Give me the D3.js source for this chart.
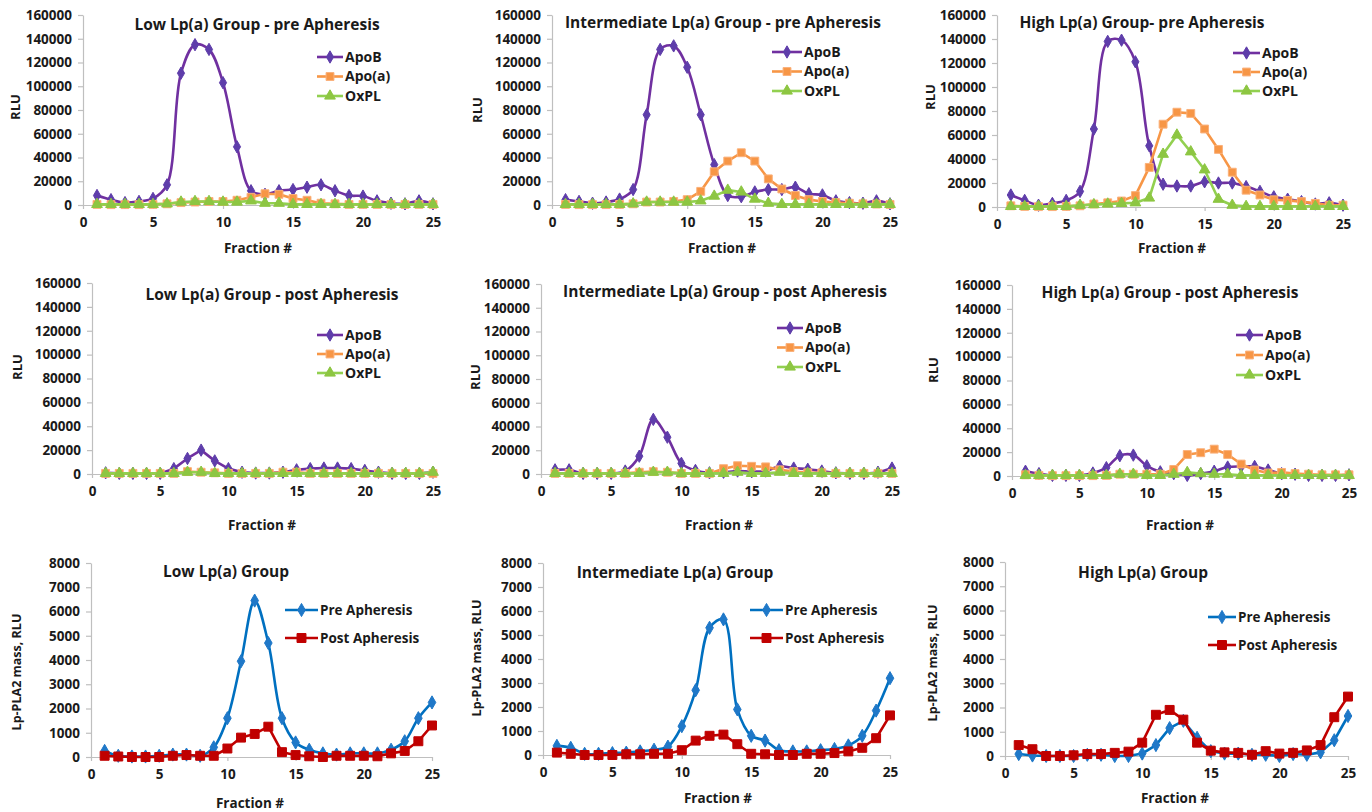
<!DOCTYPE html>
<html><head><meta charset="utf-8">
<script src="https://cdn.jsdelivr.net/npm/d3@7"></script>
<style>
body{margin:0;background:#fff;}
svg{display:block;font-family:"Open Sans",Lato,sans-serif;font-weight:bold;}
</style></head><body>
<svg id="chart" width="1372" height="812"></svg>
<script>
// ---------- DATA ----------
const fractions = [1,2,3,4,5,6,7,8,9,10,11,12,13,14,15,16,17,18,19,20,21,22,23,24,25];
const xTickValues = [0,5,10,15,20,25];
const rluTicks = [0,20000,40000,60000,80000,100000,120000,140000,160000];
const plaTicks = [0,1000,2000,3000,4000,5000,6000,7000,8000];
const apoSeriesNames = ["ApoB","Apo(a)","OxPL"];
const plaSeriesNames = ["Pre Apheresis","Post Apheresis"];
const panelTitles = [
  "Low Lp(a) Group - pre Apheresis","Intermediate Lp(a) Group - pre Apheresis","High Lp(a) Group- pre Apheresis",
  "Low Lp(a) Group - post Apheresis","Intermediate Lp(a) Group - post Apheresis","High Lp(a) Group - post Apheresis",
  "Low Lp(a) Group","Intermediate Lp(a) Group","High Lp(a) Group"];
const xAxisTitle = "Fraction #";
const rluAxisTitle = "RLU";
const plaAxisTitle = "Lp-PLA2 mass, RLU";

// Low pre
const lowPreApoB = [8000,4500,2000,3000,5500,17000,111000,135000,131000,103000,49000,12000,9000,12000,13000,15000,17000,12000,8000,7500,3500,1500,1000,3500,1000];
const lowPreApoA = [500,300,300,300,500,1000,2000,2500,3000,3000,4000,6500,9500,9000,5500,4000,1500,1000,500,500,500,500,500,500,500];
const lowPreOxPL = [500,500,500,500,500,1000,2500,3000,3000,2500,2500,3500,1500,1500,500,500,500,500,500,500,500,500,500,500,500];
// Intermediate pre
const intPreApoB = [4500,3000,1500,2500,5000,13000,76000,131000,134000,116000,76000,34000,8000,7000,11000,13000,13000,15000,9500,8500,3500,2000,1500,3500,1000];
const intPreApoA = [500,300,300,300,500,1000,2500,2500,3000,4500,11500,28000,37000,44000,37000,22000,13500,8000,4500,3000,2000,1500,1000,800,500];
const intPreOxPL = [500,500,500,500,500,1000,2500,2500,2500,2500,3500,7500,12500,11000,5000,1500,500,500,500,500,500,500,500,500,500];
// High pre
const highPreApoB = [10000,5500,1500,3000,5500,13000,65000,138000,139000,121000,51000,19000,17500,17500,21000,20000,20000,17000,13000,8500,6500,4500,2500,3500,1500];
const highPreApoA = [1000,500,300,300,500,1000,2500,3500,5000,9500,33000,69000,79000,78000,65000,48000,29000,14000,10000,6000,5500,4500,3000,1500,1500];
const highPreOxPL = [500,500,500,500,500,1500,2000,2500,3000,3500,7500,44000,60000,46000,31000,6500,1500,500,500,500,500,500,500,500,500];
// Low post
const lowPostApoB = [1000,500,500,500,500,4500,13000,20000,11000,4500,1500,800,800,1500,3500,4500,5000,5000,4500,3000,1500,500,500,500,1500];
const lowPostApoA = [500,500,500,500,500,500,2000,1500,1000,500,500,500,500,1500,1500,500,500,500,500,500,500,500,500,500,500];
const lowPostOxPL = [500,500,500,500,500,500,1500,1500,500,500,500,500,500,500,500,500,500,500,500,500,500,500,500,500,1500];
// Intermediate post
const intPostApoB = [3500,3500,500,500,500,2500,15000,46000,31000,9000,3000,1000,1500,2500,2000,2500,6500,5000,4000,2500,1000,500,500,1500,5000];
const intPostApoA = [500,500,500,500,500,500,1500,2000,1500,500,500,500,4500,7000,6500,6000,3500,2000,1000,1000,500,500,500,500,500];
const intPostOxPL = [500,500,500,500,500,500,500,1500,1500,500,500,500,500,1500,500,500,1500,500,500,500,500,500,500,500,500];
// High post
const highPostApoB = [4000,2000,500,500,500,2500,7000,17000,17500,8500,3500,2000,500,2000,4000,7500,8000,8000,5000,2000,1500,500,500,500,1000];
const highPostApoA = [1000,500,300,300,300,300,500,1500,1500,1500,1500,5500,18000,19500,22500,18000,10000,5000,2500,3000,2000,1500,1000,1000,1000];
const highPostOxPL = [500,500,500,500,500,500,500,1500,1500,500,500,1500,3000,2000,1500,1500,500,500,500,500,500,500,500,500,500];
// Lp-PLA2 mass
const lowPre  = [250,50,20,20,50,100,100,50,400,1600,3950,6450,4700,1600,600,300,150,100,150,150,150,300,650,1600,2250];
const lowPost = [50,20,0,0,0,50,80,50,50,350,800,950,1250,200,80,30,0,50,50,50,30,150,250,650,1300];
const intPre  = [380,300,50,50,80,100,150,220,350,1200,2700,5300,5650,1900,800,600,200,150,150,200,250,400,800,1850,3200];
const intPost = [100,50,0,0,0,30,30,50,50,200,600,800,850,450,50,30,0,0,50,50,80,150,300,700,1650];
const highPre  = [80,20,0,0,0,50,50,0,0,100,450,1150,1450,750,200,100,100,50,50,0,80,50,150,650,1650];
const highPost = [450,280,0,0,30,80,80,130,180,550,1700,1900,1500,550,220,150,130,50,200,100,130,230,450,1600,2450];

// ---------- STYLES ----------
const styles = {
  "ApoB":  {line:"#7030A0", fill:"#5E3DAA", stroke:"#5E3DAA", sym:d3.symbolDiamond, size:44},
  "Apo(a)":{line:"#F79646", fill:"#F79646", stroke:"#FAB07A", sym:d3.symbolSquare, size:62},
  "OxPL":  {line:"#92D050", fill:"#8DC642", stroke:"#8DC642", sym:d3.symbolTriangle, size:50},
  "Pre Apheresis": {line:"#0070C0", fill:"#1F78C8", stroke:"#1F78C8", sym:d3.symbolDiamond, size:50},
  "Post Apheresis":{line:"#C00000", fill:"#C00000", stroke:"#C00000", sym:d3.symbolSquare, size:80}
};

// ---------- PANELS ----------
const panels = [
  {t:0, data:[lowPreApoB,lowPreApoA,lowPreOxPL], smooth:[true,false,false], xr:[83,433], yr:[205,15], ttl:[257,25], yl:[15,107], xl:[258,248], lg:[317,57,19.5,26]},
  {t:1, data:[intPreApoB,intPreApoA,intPreOxPL], smooth:[true,false,false], xr:[552,890], yr:[205,15], ttl:[723,23], yl:[477,110], xl:[722,248], lg:[772,52,19.5,30]},
  {t:2, data:[highPreApoB,highPreApoA,highPreOxPL], smooth:[true,false,false], xr:[997,1343], yr:[207,15], ttl:[1142,23], yl:[930,97], xl:[1172,248], lg:[1233,53,19,27]},
  {t:3, data:[lowPostApoB,lowPostApoA,lowPostOxPL], smooth:[false,false,false], xr:[92,433], yr:[474,283], ttl:[272,295], yl:[17,367], xl:[262,525], lg:[317,335,19,26]},
  {t:4, data:[intPostApoB,intPostApoA,intPostOxPL], smooth:[true,false,false], xr:[541,892], yr:[474,284], ttl:[725,292], yl:[475,377], xl:[719,525], lg:[777,328,19.5,26]},
  {t:5, data:[highPostApoB,highPostApoA,highPostOxPL], smooth:[true,false,false], xr:[1012,1349], yr:[476,285], ttl:[1170,293], yl:[933,370], xl:[1180,525], lg:[1236,335,20,27]},
  {t:6, data:[lowPre,lowPost], smooth:[true,false], xr:[91,432], yr:[757,563], ttl:[226,572], yl:[17,672], xl:[250,803], lg:[285,610,28,33], pla:true},
  {t:7, data:[intPre,intPost], smooth:[true,false], xr:[543,890], yr:[755,563], ttl:[675,573], yl:[477,658], xl:[718,798], lg:[750,610,28,33], pla:true},
  {t:8, data:[highPre,highPost], smooth:[false,false], xr:[1005,1348], yr:[756,562], ttl:[1143,573], yl:[933,663], xl:[1175,798], lg:[1208,617,28,28], pla:true}
];

const svg = d3.select("#chart");
const textColor = "#1a1a1a";
const axisColor = "#bfbfbf";
const font = "'Open Sans', Lato, sans-serif";

panels.forEach(p => {
  const g = svg.append("g");
  const ticks = p.pla ? plaTicks : rluTicks;
  const names = p.pla ? plaSeriesNames : apoSeriesNames;
  const x = d3.scaleLinear().domain([0,25]).range(p.xr);
  const y = d3.scaleLinear().domain([0, ticks[ticks.length-1]]).range(p.yr);
  const tickFont = p.pla ? "13.5px" : "13.5px";

  const ya = g.append("g").attr("transform",`translate(${p.xr[0]},0)`)
    .call(d3.axisLeft(y).tickValues(ticks).tickFormat(d3.format("d")).tickSize(5).tickSizeOuter(0).tickPadding(6));
  const xa = g.append("g").attr("transform",`translate(0,${p.yr[0]})`)
    .call(d3.axisBottom(x).tickValues(xTickValues).tickFormat(d3.format("d")).tickSize(4).tickSizeOuter(0).tickPadding(8));
  [ya,xa].forEach(a=>{
    a.selectAll("path,line").attr("stroke",axisColor).attr("stroke-width",1.2);
    a.selectAll("text").attr("fill",textColor).style("font-size",tickFont).style("font-weight","bold")
      .style("font-family",font);
  });

  // titles
  g.append("text").attr("x",p.ttl[0]).attr("y",p.ttl[1]).attr("dy","0.35em").attr("text-anchor","middle")
    .attr("fill",textColor).style("font-size", "15.5px").text(panelTitles[p.t]);
  g.append("text").attr("transform",`translate(${p.yl[0]},${p.yl[1]}) rotate(-90)`).attr("dy","0.35em")
    .attr("text-anchor","middle").attr("fill",textColor).style("font-size", p.pla ? "12.5px" : "13px")
    .text(p.pla ? plaAxisTitle : rluAxisTitle);
  g.append("text").attr("x",p.xl[0]).attr("y",p.xl[1]).attr("dy","0.35em").attr("text-anchor","middle")
    .attr("fill",textColor).style("font-size","13.5px").text(xAxisTitle);

  // series
  p.data.forEach((vals,i) => {
    const st = styles[names[i]];
    const pts = fractions.map((f,k)=>[f, vals[k]]);
    const line = d3.line().x(d=>x(d[0])).y(d=>y(d[1]))
      .curve(p.smooth[i] ? d3.curveCatmullRom.alpha(0.5) : d3.curveLinear);
    g.append("path").datum(pts).attr("d",line).attr("fill","none")
      .attr("stroke",st.line).attr("stroke-width",2.6).attr("stroke-linejoin","round");
    g.append("g").selectAll("path").data(pts).join("path")
      .attr("transform",d=>`translate(${x(d[0])},${y(d[1])})`)
      .attr("d",d3.symbol().type(st.sym).size(st.size))
      .attr("fill",st.fill).attr("stroke",st.stroke).attr("stroke-width",1);
  });

  // legend
  const [lx,ly,ldy,llen] = p.lg;
  names.forEach((n,i)=>{
    const st = styles[n];
    const yy = ly + i*ldy;
    g.append("line").attr("x1",lx).attr("x2",lx+llen).attr("y1",yy).attr("y2",yy)
      .attr("stroke",st.line).attr("stroke-width",2.6);
    g.append("path").attr("transform",`translate(${lx+llen/2},${yy})`)
      .attr("d",d3.symbol().type(st.sym).size(st.size)).attr("fill",st.fill).attr("stroke",st.stroke);
    g.append("text").attr("x",lx+llen+2).attr("y",yy).attr("dy","0.35em").attr("fill",textColor)
      .style("font-size", p.pla ? "13.5px" : "14px").text(n);
  });
});
</script>
</body></html>
